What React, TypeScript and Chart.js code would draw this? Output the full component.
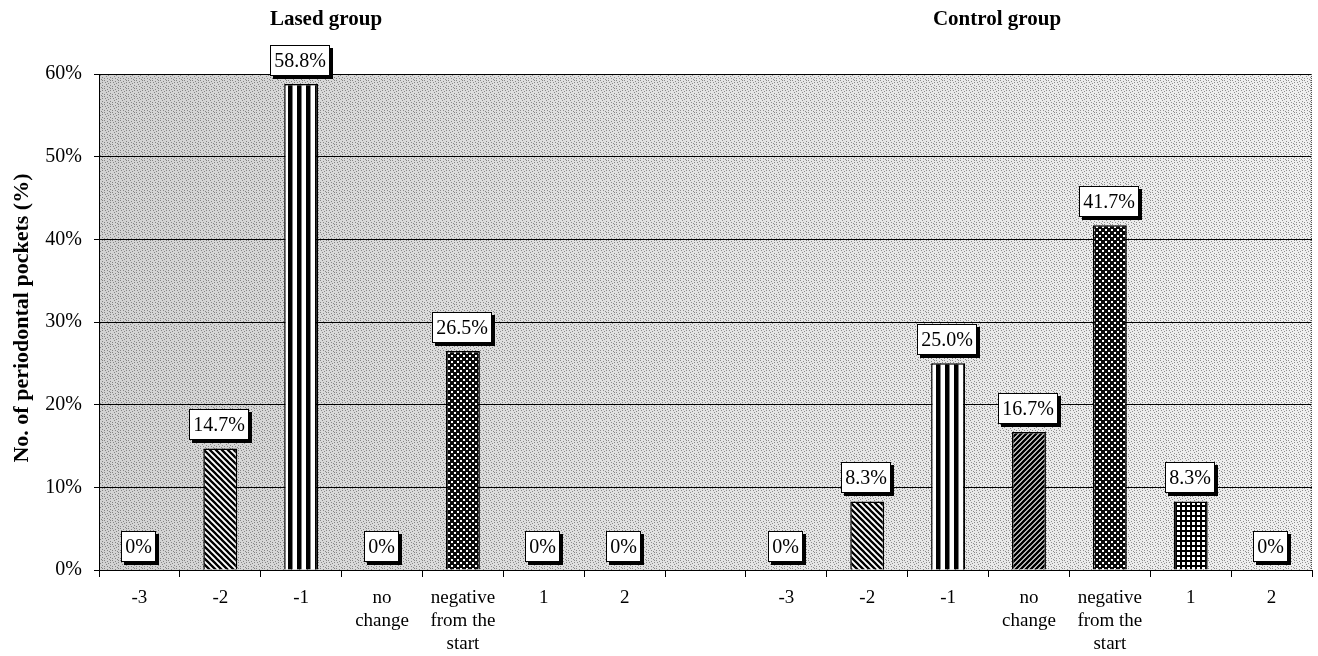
import React, { useEffect, useRef } from "react";
import { Chart, registerables } from "chart.js";

Chart.register(...registerables);

// ---- data ----
const categories: (string | string[])[] = ["-3", "-2", "-1", ["no", "change"], ["negative", "from the", "start"], "1", "2"];
const lasedValues: number[] = [0, 14.7, 58.8, 0, 26.5, 0, 0];
const controlValues: number[] = [0, 8.3, 25.0, 16.7, 41.7, 8.3, 0];
const groupTitles: string[] = ["Lased group", "Control group"];
const yTicks: number[] = [0, 10, 20, 30, 40, 50, 60];
const yTitle = "No. of periodontal pockets (%)";

// pattern kind per category (style)
const categoryPatterns: string[] = ["none", "backslash", "vertical", "slash", "checker", "grid", "none"];

function makePattern(kind: string): CanvasPattern | string {
  const c = document.createElement("canvas");
  const g = c.getContext("2d")!;
  if (kind === "backslash") {
    c.width = 6; c.height = 6;
    g.fillStyle = "#fff"; g.fillRect(0, 0, 6, 6);
    g.strokeStyle = "#000"; g.lineWidth = 2.3;
    g.beginPath();
    g.moveTo(-1, -1); g.lineTo(7, 7);
    g.moveTo(-4, 2); g.lineTo(4, 10);
    g.moveTo(2, -4); g.lineTo(10, 4);
    g.stroke();
  } else if (kind === "slash") {
    c.width = 5; c.height = 5;
    g.fillStyle = "#fff"; g.fillRect(0, 0, 5, 5);
    g.strokeStyle = "#000"; g.lineWidth = 2.6;
    g.beginPath();
    g.moveTo(-1, 6); g.lineTo(6, -1);
    g.moveTo(-4, 4); g.lineTo(4, -4);
    g.moveTo(1, 9); g.lineTo(9, 1);
    g.stroke();
  } else if (kind === "vertical") {
    c.width = 9; c.height = 8;
    g.fillStyle = "#fff"; g.fillRect(0, 0, 9, 8);
    g.fillStyle = "#000"; g.fillRect(0, 0, 4.5, 8);
  } else if (kind === "checker") {
    c.width = 6; c.height = 6;
    g.fillStyle = "#0a0a0a"; g.fillRect(0, 0, 6, 6);
    g.fillStyle = "#fff";
    g.fillRect(1, 1, 2, 2);
    g.fillRect(4, 4, 2, 2);
  } else if (kind === "grid") {
    c.width = 5; c.height = 5;
    g.fillStyle = "#000"; g.fillRect(0, 0, 5, 5);
    g.fillStyle = "#fff"; g.fillRect(2, 2, 3, 3);
  } else {
    return "#ffffff";
  }
  return g.createPattern(c, "repeat")!;
}

function makeStipple(): CanvasPattern {
  const rows = [
    "x.....x.",
    "...x....",
    ".x....x.",
    "....x...",
    "..x.....",
    "......x.",
    "x..x....",
    ".....x..",
  ];
  const c = document.createElement("canvas");
  c.width = 8; c.height = 8;
  const g = c.getContext("2d")!;
  g.fillStyle = "rgba(80,80,80,0.6)";
  rows.forEach((r, y) => r.split("").forEach((ch, x) => { if (ch === "x") g.fillRect(x, y, 1, 1); }));
  return g.createPattern(c, "repeat")!;
}

export default function App() {
  const ref = useRef<HTMLCanvasElement>(null);

  useEffect(() => {
    if (!ref.current) return;
    const labels = [...categories, "", ...categories];
    const data: (number | null)[] = [...lasedValues, null, ...controlValues];
    const pats = categoryPatterns.map(makePattern);
    const fills = [...pats, "#fff", ...pats];
    const stipple = makeStipple();
    const serif = '"Liberation Serif", "Times New Roman", serif';

    const bgPlugin = {
      id: "bgPlugin",
      beforeDraw(chart: any) {
        const { ctx, chartArea: a } = chart;
        ctx.save();
        const gr = ctx.createLinearGradient(a.left, 0, a.right, 0);
        gr.addColorStop(0, "#d2d2d2");
        gr.addColorStop(0.5, "#e3e3e3");
        gr.addColorStop(1, "#efefef");
        ctx.fillStyle = gr;
        ctx.fillRect(a.left, a.top, a.right - a.left, a.bottom - a.top);
        ctx.fillStyle = stipple;
        ctx.fillRect(a.left, a.top, a.right - a.left, a.bottom - a.top);
        ctx.restore();
      },
      afterDraw(chart: any) {
        const { ctx, chartArea: a } = chart;
        ctx.save();
        // right dotted border
        ctx.strokeStyle = "#555";
        ctx.setLineDash([1, 1]);
        ctx.lineWidth = 1;
        ctx.beginPath();
        ctx.moveTo(a.right - 0.5, a.top);
        ctx.lineTo(a.right - 0.5, a.bottom);
        ctx.stroke();
        ctx.setLineDash([]);
        // titles
        ctx.fillStyle = "#000";
        ctx.font = `bold 21px ${serif}`;
        ctx.textAlign = "center";
        ctx.textBaseline = "alphabetic";
        ctx.fillText(groupTitles[0], 326, 25);
        ctx.fillText(groupTitles[1], 997, 25);
        // y title
        ctx.translate(22, 318);
        ctx.rotate(-Math.PI / 2);
        ctx.font = `bold 22px ${serif}`;
        ctx.textBaseline = "middle";
        ctx.fillText(yTitle, 0, 0);
        ctx.restore();
      },
      afterDatasetsDraw(chart: any) {
        const { ctx } = chart;
        const meta = chart.getDatasetMeta(0);
        ctx.save();
        ctx.font = `20px ${serif}`;
        ctx.textAlign = "center";
        ctx.textBaseline = "middle";
        meta.data.forEach((el: any, i: number) => {
          const v = data[i];
          if (v === null || v === undefined) return;
          const text = v === 0 ? "0%" : v.toFixed(1) + "%";
          const w = Math.round(ctx.measureText(text).width + 8);
          const h = 31;
          const left = Math.round(el.x - w / 2) - 1;
          const bottom = Math.round(el.y) - 8;
          const top = bottom - h;
          ctx.fillStyle = "#000";
          ctx.fillRect(left + 3, top + 3, w, h);
          ctx.fillStyle = "#fff";
          ctx.fillRect(left, top, w, h);
          ctx.strokeStyle = "#000";
          ctx.lineWidth = 1;
          ctx.strokeRect(left + 0.5, top + 0.5, w - 1, h - 1);
          ctx.fillStyle = "#000";
          ctx.fillText(text, left + w / 2, top + h / 2 + 1);
        });
        ctx.restore();
      },
    };

    const chart = new Chart(ref.current, {
      type: "bar",
      data: {
        labels,
        datasets: [
          {
            data,
            backgroundColor: fills as any,
            borderColor: "#000",
            borderWidth: 1.5,
            barPercentage: 0.42,
            categoryPercentage: 1,
          },
        ],
      },
      options: {
        animation: false,
        responsive: false,
        maintainAspectRatio: false,
        layout: { padding: { top: 74, right: 6, left: 0, bottom: 0 } },
        plugins: { legend: { display: false }, tooltip: { enabled: false } },
        scales: {
          x: {
            offset: true,
            afterFit: (s: any) => { s.height = 86; },
            grid: { drawOnChartArea: false, drawTicks: true, tickLength: 7, color: "#000", offset: true },
            border: { display: true, color: "#000", width: 1 },
            ticks: {
              color: "#000",
              font: { family: serif, size: 19, lineHeight: 1.2 },
              padding: 10,
              maxRotation: 0,
              autoSkip: false,
            },
          },
          y: {
            min: 0,
            max: 60,
            afterFit: (s: any) => { s.width = 99; },
            afterBuildTicks: (s: any) => { s.ticks = yTicks.map((v) => ({ value: v })); },
            grid: { color: "#000", lineWidth: 1, drawTicks: true, tickLength: 5 },
            border: { display: true, color: "#000", width: 1 },
            ticks: {
              color: "#000",
              font: { family: serif, size: 20 },
              padding: 12,
              callback: (v: any) => `${v}%`,
            },
          },
        },
      },
      plugins: [bgPlugin],
    });
    return () => chart.destroy();
  }, []);

  return (
    <div style={{ position: "absolute", left: 0, top: 0, width: 1318, height: 656, background: "#fff" }}>
      <canvas ref={ref} width={1318} height={656} style={{ display: "block" }} />
    </div>
  );
}
